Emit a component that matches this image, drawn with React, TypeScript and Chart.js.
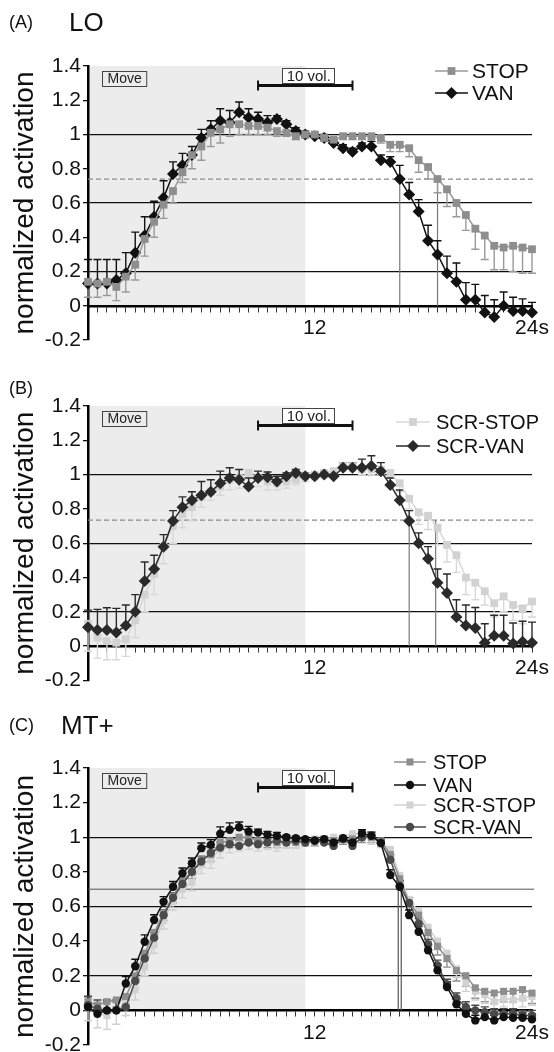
import React, { useEffect, useRef } from "react";
import { Chart, registerables } from "chart.js";

Chart.register(...registerables);

const FONT = '"Liberation Sans", Arial, Helvetica, sans-serif';

// ---- shared axis data ----
const TIME = [0, 0.5, 1, 1.5, 2, 2.5, 3, 3.5, 4, 4.5, 5, 5.5, 6, 6.5, 7, 7.5, 8, 8.5, 9, 9.5, 10, 10.5, 11, 11.5,
  12, 12.5, 13, 13.5, 14, 14.5, 15, 15.5, 16, 16.5, 17, 17.5, 18, 18.5, 19, 19.5, 20, 20.5, 21, 21.5, 22, 22.5, 23, 23.5];
const X_LABEL_VALUES = [12, 23.5];
const X_LABEL_TEXTS = ["12", "24s"];
const Y_TICK_VALUES = [-0.2, 0, 0.2, 0.4, 0.6, 0.8, 1, 1.2, 1.4];
const Y_TICK_LABELS = ["-0.2", "0", "0.2", "0.4", "0.6", "0.8", "1", "1.2", "1.4"];
const Y_RULE_VALUES = [0.2, 0.6, 1];
const MOVE_END = 11.5;
const VOL_BAR = [9, 14];

// ---- Panel A: LO ----
const A_STOP = [0.14, 0.13, 0.14, 0.11, 0.17, 0.24, 0.39, 0.49, 0.59, 0.67,
  0.78, 0.88, 0.93, 1.01, 1.03, 1.06, 1.06, 1.05, 1.05, 1.04,
  1.02, 1.01, 0.99, 1.0, 1.0, 0.98, 0.97, 0.99, 0.99, 0.99,
  0.99, 0.98, 0.94, 0.94, 0.92, 0.85, 0.81, 0.74, 0.68, 0.6,
  0.53, 0.45, 0.41, 0.35, 0.34, 0.35, 0.34, 0.33];
const A_STOP_ERR = [0.09, 0.08, 0.08, 0.08, 0.09, 0.09, 0.1, 0.09, 0.08, 0.07,
  0.06, 0.08, 0.08, 0.08, 0.08, 0.07, 0.06, 0.05, 0.05, 0.04,
  0.03, 0.02, 0.02, 0.02, 0.02, 0.02, 0.02, 0.02, 0.02, 0.02,
  0.03, 0.03, 0.04, 0.04, 0.05, 0.07, 0.07, 0.08, 0.1, 0.08,
  0.09, 0.12, 0.14, 0.14, 0.13, 0.15, 0.15, 0.14];
const A_VAN = [0.13, 0.13, 0.13, 0.15, 0.19, 0.31, 0.41, 0.52, 0.63, 0.77,
  0.82, 0.88, 0.98, 1.03, 1.08, 1.07, 1.13, 1.1, 1.09, 1.07,
  1.09, 1.06, 1.02, 1.0, 0.99, 0.98, 0.95, 0.92, 0.9, 0.93,
  0.93, 0.85, 0.84, 0.74, 0.65, 0.55, 0.38, 0.3, 0.19, 0.14,
  0.035, 0.035, -0.04, -0.065, 0.0, -0.03, -0.03, -0.04];
const A_VAN_ERR = [0.14, 0.14, 0.14, 0.12, 0.12, 0.12, 0.11, 0.09, 0.1, 0.07,
  0.07, 0.05, 0.05, 0.05, 0.07, 0.07, 0.06, 0.05, 0.04, 0.04,
  0.02, 0.02, 0.02, 0.02, 0.02, 0.02, 0.02, 0.02, 0.02, 0.02,
  0.03, 0.03, 0.03, 0.08, 0.07, 0.07, 0.09, 0.08, 0.1, 0.11,
  0.1, 0.09, 0.1, 0.1, 0.08, 0.08, 0.07, 0.06];
const A_THRESHOLD = 0.74;
const A_CROSSINGS = [16.5, 18.5];

// ---- Panel B: scrambled ----
const B_SCR_STOP = [0.13, 0.05, 0.03, 0.02, 0.04, 0.15, 0.3, 0.42, 0.58, 0.7,
  0.77, 0.81, 0.87, 0.9, 0.93, 0.97, 0.98, 1.01, 0.98, 0.96,
  0.95, 0.96, 0.97, 0.99, 1.0, 1.01, 1.02, 1.05, 1.05, 1.03,
  1.03, 1.03, 1.01, 0.95, 0.86, 0.78, 0.76, 0.69, 0.59, 0.53,
  0.4, 0.37, 0.32, 0.25, 0.29, 0.24, 0.22, 0.26];
const B_SCR_STOP_ERR = [0.16, 0.12, 0.11, 0.1, 0.1, 0.1, 0.1, 0.12, 0.1, 0.1,
  0.08, 0.08, 0.06, 0.05, 0.05, 0.06, 0.06, 0.06, 0.05, 0.05,
  0.04, 0.04, 0.03, 0.03, 0.03, 0.03, 0.03, 0.03, 0.03, 0.03,
  0.03, 0.03, 0.03, 0.05, 0.06, 0.07, 0.08, 0.1, 0.1, 0.1,
  0.1, 0.1, 0.08, 0.08, 0.09, 0.09, 0.09, 0.09];
const B_SCR_VAN = [0.11, 0.094, 0.094, 0.08, 0.12, 0.2, 0.38, 0.45, 0.58, 0.73,
  0.81, 0.85, 0.88, 0.9, 0.95, 0.98, 0.97, 0.93, 0.98, 0.985,
  0.96, 0.99, 1.01, 0.99, 0.99, 1.0, 0.99, 1.04, 1.04, 1.04,
  1.05, 1.02, 0.94, 0.85, 0.73, 0.6, 0.51, 0.37, 0.31, 0.17,
  0.12, 0.105, 0.02, 0.06, 0.06, 0.015, 0.025, 0.02];
const B_SCR_VAN_ERR = [0.1, 0.12, 0.13, 0.14, 0.12, 0.1, 0.11, 0.08, 0.07, 0.06,
  0.06, 0.05, 0.08, 0.07, 0.07, 0.06, 0.06, 0.05, 0.04, 0.03,
  0.03, 0.02, 0.02, 0.02, 0.02, 0.02, 0.02, 0.03, 0.03, 0.05,
  0.06, 0.05, 0.04, 0.06, 0.06, 0.06, 0.07, 0.08, 0.11, 0.1,
  0.12, 0.12, 0.11, 0.12, 0.12, 0.12, 0.12, 0.12];
const B_THRESHOLD = 0.735;
const B_CROSSINGS = [17.0, 18.4];

// ---- Panel C: MT+ ----
const C_STOP = [0.05, 0.03, 0.05, 0.06, 0.08, 0.2, 0.33, 0.45, 0.56, 0.66,
  0.75, 0.8, 0.87, 0.9, 0.97, 0.98, 1.0, 1.0, 0.98, 0.97,
  0.97, 0.97, 0.97, 0.98, 0.98, 0.99, 0.98, 0.99, 0.99, 1.0,
  1.0, 0.98, 0.9, 0.76, 0.62, 0.55, 0.45, 0.37, 0.3, 0.23,
  0.2, 0.13, 0.11, 0.1, 0.11, 0.11, 0.12, 0.1];
const C_STOP_ERR = [0.04, 0.04, 0.04, 0.04, 0.04, 0.04, 0.04, 0.04, 0.04, 0.04,
  0.04, 0.04, 0.04, 0.04, 0.04, 0.04, 0.04, 0.04, 0.03, 0.03,
  0.03, 0.03, 0.03, 0.03, 0.03, 0.03, 0.03, 0.03, 0.03, 0.03,
  0.03, 0.03, 0.04, 0.04, 0.04, 0.04, 0.05, 0.05, 0.05, 0.06,
  0.06, 0.06, 0.06, 0.06, 0.06, 0.06, 0.06, 0.06];
const C_VAN = [0.02, -0.02, 0.0, 0.0, 0.155, 0.255, 0.396, 0.522, 0.627, 0.714,
  0.792, 0.85, 0.937, 0.956, 1.02, 1.043, 1.058, 1.033, 1.027, 1.014,
  1.008, 1.0, 0.994, 0.989, 0.981, 0.989, 0.97, 0.994, 0.97, 1.023,
  1.008, 0.966, 0.782, 0.714, 0.55, 0.454, 0.347, 0.231, 0.135, 0.035,
  -0.02, -0.058, -0.039, -0.058, -0.039, -0.043, -0.043, -0.052];
const C_VAN_ERR = [0.06, 0.06, 0.06, 0.06, 0.04, 0.04, 0.04, 0.03, 0.03, 0.03,
  0.03, 0.03, 0.03, 0.03, 0.04, 0.04, 0.03, 0.03, 0.02, 0.02,
  0.02, 0.01, 0.01, 0.01, 0.01, 0.01, 0.01, 0.01, 0.01, 0.02,
  0.02, 0.02, 0.03, 0.03, 0.03, 0.03, 0.03, 0.03, 0.03, 0.03,
  0.03, 0.03, 0.03, 0.03, 0.03, 0.03, 0.03, 0.03];
const C_SCR_STOP = [0.02, -0.02, -0.03, 0.0, 0.04, 0.12, 0.25, 0.38, 0.52, 0.63,
  0.7, 0.74, 0.84, 0.87, 0.93, 0.96, 0.97, 0.98, 0.96, 0.97,
  0.96, 0.97, 0.97, 0.98, 0.99, 0.99, 1.0, 1.0, 1.02, 1.02,
  0.99, 0.97, 0.93, 0.78, 0.64, 0.57, 0.48, 0.4, 0.33, 0.24,
  0.16, 0.11, 0.09, 0.05, 0.07, 0.06, 0.07, 0.08];
const C_SCR_STOP_ERR = [0.08, 0.08, 0.08, 0.08, 0.07, 0.06, 0.05, 0.05, 0.05, 0.05,
  0.05, 0.05, 0.05, 0.05, 0.05, 0.05, 0.05, 0.05, 0.04, 0.04,
  0.04, 0.03, 0.03, 0.03, 0.03, 0.03, 0.03, 0.03, 0.03, 0.03,
  0.03, 0.03, 0.04, 0.04, 0.04, 0.04, 0.05, 0.05, 0.05, 0.05,
  0.05, 0.05, 0.05, 0.05, 0.05, 0.05, 0.05, 0.05];
const C_SCR_VAN = [0.03, 0.01, 0.0, 0.0, 0.02, 0.17, 0.3, 0.42, 0.55, 0.65,
  0.73, 0.8, 0.86, 0.91, 0.94, 0.96, 0.95, 0.97, 0.96, 0.97,
  0.98, 0.97, 0.98, 0.97, 0.98, 0.97, 0.95, 0.99, 0.95, 1.0,
  1.01, 0.97, 0.87, 0.72, 0.62, 0.5, 0.38, 0.26, 0.15, 0.07,
  0.02, 0.0, -0.01, -0.02, -0.02, -0.02, -0.03, -0.03];
const C_SCR_VAN_ERR = [0.05, 0.05, 0.05, 0.05, 0.04, 0.04, 0.03, 0.03, 0.03, 0.03,
  0.03, 0.03, 0.03, 0.03, 0.03, 0.03, 0.03, 0.03, 0.02, 0.02,
  0.02, 0.02, 0.02, 0.02, 0.02, 0.02, 0.02, 0.02, 0.02, 0.02,
  0.02, 0.02, 0.03, 0.03, 0.03, 0.03, 0.03, 0.03, 0.03, 0.03,
  0.03, 0.03, 0.03, 0.03, 0.03, 0.03, 0.03, 0.03];
const C_THRESHOLD = 0.7;
const C_CROSSINGS = [16.42, 16.58];

type Series = {
  label: string;
  values: number[];
  errors: number[];
  errDir: number;
  color: string;
  lineColor: string;
  pointStyle: string;
  radius: number;
  order: number;
};

type PanelSpec = {
  series: Series[];
  threshold: number;
  dashed: boolean;
  crossings: number[];
  legend: { x1: number; x2: number; tx: number; rows: number[]; size: number };
  top: number;
  height: number;
  padTop: number;
  padBottom: number;
};

const STOP_GRAY = "#8e8e8e";
const SCR_STOP_GRAY = "#d2d2d2";

const PANELS: PanelSpec[] = [
  {
    series: [
      { label: "STOP", values: A_STOP, errors: A_STOP_ERR, errDir: -1, color: STOP_GRAY, lineColor: "#9a9a9a", pointStyle: "rect", radius: 5.5, order: 1 },
      { label: "VAN", values: A_VAN, errors: A_VAN_ERR, errDir: 1, color: "#111111", lineColor: "#111111", pointStyle: "rectRot", radius: 6, order: 2 },
    ],
    threshold: A_THRESHOLD,
    dashed: true,
    crossings: A_CROSSINGS,
    legend: { x1: 435, x2: 468, tx: 472, rows: [71, 93], size: 21 },
    top: 0, height: 360, padTop: 66, padBottom: 20,
  },
  {
    series: [
      { label: "SCR-STOP", values: B_SCR_STOP, errors: B_SCR_STOP_ERR, errDir: -1, color: SCR_STOP_GRAY, lineColor: "#d8d8d8", pointStyle: "rect", radius: 5.5, order: 2 },
      { label: "SCR-VAN", values: B_SCR_VAN, errors: B_SCR_VAN_ERR, errDir: 1, color: "#2a2a2a", lineColor: "#2a2a2a", pointStyle: "rectRot", radius: 6, order: 1 },
    ],
    threshold: B_THRESHOLD,
    dashed: true,
    crossings: B_CROSSINGS,
    legend: { x1: 396, x2: 430, tx: 436, rows: [82, 106], size: 20 },
    top: 340, height: 360, padTop: 66, padBottom: 19.6,
  },
  {
    series: [
      { label: "STOP", values: C_STOP, errors: C_STOP_ERR, errDir: -1, color: STOP_GRAY, lineColor: "#8e8e8e", pointStyle: "rect", radius: 5, order: 3 },
      { label: "VAN", values: C_VAN, errors: C_VAN_ERR, errDir: 1, color: "#111111", lineColor: "#111111", pointStyle: "circle", radius: 4.2, order: 1 },
      { label: "SCR-STOP", values: C_SCR_STOP, errors: C_SCR_STOP_ERR, errDir: -1, color: SCR_STOP_GRAY, lineColor: "#d0d0d0", pointStyle: "rect", radius: 5, order: 4 },
      { label: "SCR-VAN", values: C_SCR_VAN, errors: C_SCR_VAN_ERR, errDir: 1, color: "#4a4a4a", lineColor: "#4a4a4a", pointStyle: "circle", radius: 4.2, order: 2 },
    ],
    threshold: C_THRESHOLD,
    dashed: false,
    crossings: C_CROSSINGS,
    legend: { x1: 394, x2: 426, tx: 433, rows: [62, 85, 105, 127], size: 20 },
    top: 700, height: 352, padTop: 68, padBottom: 7,
  },
];

const TITLES = [
  { tag: "(A)", name: "LO", top: 22, nameLeft: 69 },
  { tag: "(B)", name: "", top: 388, nameLeft: 0 },
  { tag: "(C)", name: "MT+", top: 725, nameLeft: 61 },
];

function drawMarker(ctx: CanvasRenderingContext2D, style: string, x: number, y: number, r: number, color: string) {
  ctx.save();
  ctx.fillStyle = color;
  ctx.beginPath();
  if (style === "rect") {
    const h = r * Math.SQRT1_2;
    ctx.rect(x - h, y - h, 2 * h, 2 * h);
  } else if (style === "rectRot") {
    ctx.moveTo(x - r, y);
    ctx.lineTo(x, y - r);
    ctx.lineTo(x + r, y);
    ctx.lineTo(x, y + r);
    ctx.closePath();
  } else {
    ctx.arc(x, y, r, 0, Math.PI * 2);
  }
  ctx.fill();
  ctx.restore();
}

function decorPlugin(spec: PanelSpec) {
  return {
    id: "decor",
    beforeDraw(chart: any) {
      const { ctx, scales } = chart;
      const x = scales.x, y = scales.y;
      const x0 = x.getPixelForValue(0);
      const x1 = x.getPixelForValue(MOVE_END);
      const yt = y.getPixelForValue(1.4);
      const y0 = y.getPixelForValue(0);
      ctx.save();
      ctx.fillStyle = "#ececec";
      ctx.fillRect(x0, yt, x1 - x0, y0 - yt);
      ctx.restore();
    },
    beforeDatasetsDraw(chart: any) {
      const { ctx, chartArea, scales } = chart;
      const x = scales.x, y = scales.y;
      ctx.save();
      const ty = y.getPixelForValue(spec.threshold);
      ctx.beginPath();
      ctx.strokeStyle = spec.dashed ? "#8a8a8a" : "#555";
      ctx.lineWidth = spec.dashed ? 1.3 : 1;
      ctx.setLineDash(spec.dashed ? [5, 3] : []);
      ctx.moveTo(chartArea.left, ty);
      ctx.lineTo(chartArea.right + 2, ty);
      ctx.stroke();
      ctx.setLineDash([]);
      ctx.strokeStyle = spec.dashed ? "#7a7a7a" : "#555";
      ctx.lineWidth = 1.2;
      const y0 = y.getPixelForValue(0);
      spec.crossings.forEach((t) => {
        const px = x.getPixelForValue(t);
        ctx.beginPath();
        ctx.moveTo(px, y0);
        ctx.lineTo(px, ty);
        ctx.stroke();
      });
      ctx.lineWidth = 1.4;
      spec.series.forEach((s) => {
        ctx.strokeStyle = s.lineColor;
        s.values.forEach((v, i) => {
          const px = x.getPixelForValue(TIME[i]);
          const py = y.getPixelForValue(v);
          const pe = y.getPixelForValue(v + s.errDir * s.errors[i]);
          ctx.beginPath();
          ctx.moveTo(px, py);
          ctx.lineTo(px, pe);
          ctx.moveTo(px - 4, pe);
          ctx.lineTo(px + 4, pe);
          ctx.stroke();
        });
      });
      ctx.restore();
    },
    afterDraw(chart: any) {
      const { ctx, chartArea, scales } = chart;
      const x = scales.x;
      ctx.save();
      ctx.font = `14px ${FONT}`;
      ctx.textBaseline = "middle";
      ctx.textAlign = "center";
      const mw = ctx.measureText("Move").width + 10;
      const mx = chartArea.left + 14;
      const my = chartArea.top + 5;
      ctx.strokeStyle = "#444";
      ctx.lineWidth = 1;
      ctx.strokeRect(mx + 0.5, my + 0.5, mw, 15);
      ctx.fillStyle = "#222";
      ctx.fillText("Move", mx + mw / 2 + 0.5, my + 8.5);
      const bx1 = x.getPixelForValue(VOL_BAR[0]);
      const bx2 = x.getPixelForValue(VOL_BAR[1]);
      const by = chartArea.top + 19.5;
      ctx.strokeStyle = "#111";
      ctx.lineWidth = 3;
      ctx.beginPath();
      ctx.moveTo(bx1, by);
      ctx.lineTo(bx2, by);
      ctx.stroke();
      ctx.lineWidth = 2;
      ctx.beginPath();
      ctx.moveTo(bx1, by - 5);
      ctx.lineTo(bx1, by + 5);
      ctx.moveTo(bx2, by - 5);
      ctx.lineTo(bx2, by + 5);
      ctx.stroke();
      ctx.font = `15px ${FONT}`;
      const vw = ctx.measureText("10 vol.").width + 8;
      const vcx = (bx1 + bx2) / 2 + 3;
      ctx.fillStyle = "#fff";
      ctx.fillRect(vcx - vw / 2, chartArea.top + 2, vw, 15);
      ctx.strokeStyle = "#444";
      ctx.lineWidth = 1;
      ctx.strokeRect(Math.round(vcx - vw / 2) + 0.5, chartArea.top + 2.5, Math.round(vw), 15);
      ctx.fillStyle = "#222";
      ctx.fillText("10 vol.", vcx + 0.5, chartArea.top + 10.5);
      const L = spec.legend;
      ctx.textAlign = "left";
      ctx.font = `${L.size}px ${FONT}`;
      spec.series.forEach((s, k) => {
        const ry = L.rows[k];
        ctx.strokeStyle = s.lineColor;
        ctx.lineWidth = 1.5;
        ctx.beginPath();
        ctx.moveTo(L.x1, ry);
        ctx.lineTo(L.x2, ry);
        ctx.stroke();
        drawMarker(ctx, s.pointStyle, (L.x1 + L.x2) / 2, ry, s.radius, s.color);
        ctx.fillStyle = "#111";
        ctx.fillText(s.label, L.tx, ry + 1);
      });
      ctx.restore();
    },
  };
}

function nearIndex(list: number[], v: number) {
  return list.findIndex((t) => Math.abs(t - v) < 1e-6);
}

function buildConfig(spec: PanelSpec): any {
  return {
    type: "line",
    data: {
      datasets: spec.series.map((s) => ({
        label: s.label,
        data: TIME.map((t, i) => ({ x: t, y: s.values[i] })),
        borderColor: s.lineColor,
        backgroundColor: s.color,
        pointBackgroundColor: s.color,
        pointBorderColor: s.color,
        pointBorderWidth: 0,
        pointStyle: s.pointStyle,
        pointRadius: s.radius,
        borderWidth: 1.5,
        tension: 0,
        order: s.order,
        clip: false,
      })),
    },
    options: {
      animation: false,
      responsive: false,
      devicePixelRatio: 1,
      events: [],
      layout: { padding: { left: 0, right: 22, top: spec.padTop, bottom: spec.padBottom } },
      plugins: { legend: { display: false }, tooltip: { enabled: false }, title: { display: false } },
      scales: {
        x: {
          type: "linear",
          min: 0,
          max: 23.5,
          position: { y: 0 },
          afterBuildTicks: (s: any) => {
            s.ticks = TIME.map((v) => ({ value: v }));
          },
          afterFit: (s: any) => {
            s.paddingLeft = 0;
            s.paddingRight = 0;
          },
          ticks: {
            autoSkip: false,
            maxRotation: 0,
            minRotation: 0,
            padding: 5,
            color: "#111",
            font: { family: FONT, size: 21 },
            callback: (v: number) => {
              const k = nearIndex(X_LABEL_VALUES, v);
              return k >= 0 ? X_LABEL_TEXTS[k] : "";
            },
          },
          grid: { drawOnChartArea: false, drawTicks: true, tickLength: 5, tickColor: "#333", tickWidth: 1 },
          border: { display: true, color: "#000", width: 2.5 },
        },
        y: {
          type: "linear",
          min: -0.2,
          max: 1.4,
          position: "left",
          afterBuildTicks: (s: any) => {
            s.ticks = Y_TICK_VALUES.map((v) => ({ value: v }));
          },
          afterFit: (s: any) => {
            s.width = 88;
            s.paddingTop = 0;
            s.paddingBottom = 0;
          },
          ticks: {
            autoSkip: false,
            padding: 2,
            color: "#111",
            font: { family: FONT, size: 21 },
            callback: (v: number) => {
              const k = nearIndex(Y_TICK_VALUES, v);
              return k >= 0 ? Y_TICK_LABELS[k] : "";
            },
          },
          grid: {
            drawOnChartArea: true,
            drawTicks: true,
            tickLength: 5,
            tickColor: "#111",
            lineWidth: 1.3,
            color: (c: any) => (c.tick && nearIndex(Y_RULE_VALUES, c.tick.value) >= 0 ? "#111" : "rgba(0,0,0,0)"),
          },
          border: { display: true, color: "#000", width: 2.5 },
          title: {
            display: true,
            text: "normalized activation",
            color: "#111",
            font: { family: FONT, size: 28 },
            padding: { top: 8, bottom: 0 },
          },
        },
      },
    },
    plugins: [decorPlugin(spec)],
  };
}

function Panel({ spec }: { spec: PanelSpec }) {
  const ref = useRef<HTMLCanvasElement>(null);
  useEffect(() => {
    if (!ref.current) return;
    const chart = new Chart(ref.current, buildConfig(spec));
    return () => chart.destroy();
  }, [spec]);
  return (
    <canvas
      ref={ref}
      width={554}
      height={spec.height}
      style={{ position: "absolute", left: 0, top: spec.top, width: 554, height: spec.height }}
    />
  );
}

export default function App() {
  return (
    <div style={{ position: "absolute", left: 0, top: 0, width: 554, height: 1052, background: "#fff", overflow: "hidden", fontFamily: FONT }}>
      {PANELS.map((p, i) => (
        <Panel key={i} spec={p} />
      ))}
      {TITLES.map((t, i) => (
        <React.Fragment key={"t" + i}>
          <div style={{ position: "absolute", left: 9, top: t.top - 12, height: 24, lineHeight: "24px", fontSize: 18, color: "#111", zIndex: 2 }}>
            {t.tag}
          </div>
          {t.name ? (
            <div style={{ position: "absolute", left: t.nameLeft, top: t.top - 15, height: 30, lineHeight: "30px", fontSize: 26, color: "#111", zIndex: 2 }}>
              {t.name}
            </div>
          ) : null}
        </React.Fragment>
      ))}
    </div>
  );
}
